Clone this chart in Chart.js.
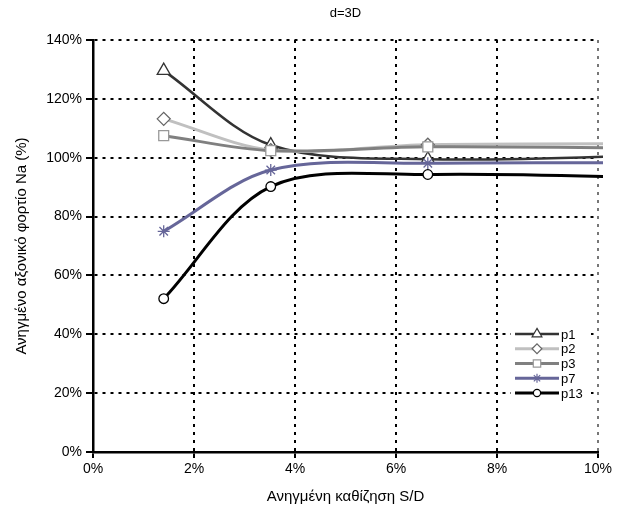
<!DOCTYPE html>
<html>
<head>
<meta charset="utf-8">
<script src="https://cdn.jsdelivr.net/npm/chart.js@4"></script>
<style>
  html, body { margin: 0; padding: 0; background: #fff; }
</style>
</head>
<body>
<canvas id="myChart" width="624" height="510"></canvas>
<script>
// values (S/D in %, Na in %)
// last point sits past 10% so the lines run out to the right edge
const settlement = [1.4, 3.52, 6.63, 12];
const p1 = [129.6, 104.3, 99.5, 101.3];
const p2 = [113.2, 102.6, 104.4, 104.8];
const p3 = [107.5, 102.4, 103.7, 103.1];
const p7 = [75.0, 95.8, 98.1, 98.2];
const p13 = [52.1, 90.2, 94.3, 92.8];

const chartTitle = 'd=3D';
const xTitle = 'Ανηγμένη καθίζηση S/D';
const yTitle = 'Ανηγμένο αξονικό φορτίο Na (%)';

const FONT = '"Liberation Sans", Arial, sans-serif';
Chart.defaults.font.family = FONT;
Chart.defaults.color = '#000';

function series(label, values, color, style, radius, edge, width, order) {
  return {
    label: label,
    data: settlement.map((x, i) => ({ x: x, y: values[i] })),
    showLine: true,
    borderColor: color,
    borderWidth: width,
    tension: 0.33,
    pointStyle: style,
    pointRadius: radius,
    pointHoverRadius: radius,
    pointBackgroundColor: style === 'star' ? color : '#fff',
    pointBorderColor: edge,
    pointBorderWidth: 1.3,
    clip: { left: 2, right: 5, top: 2, bottom: 2 },
    order: order
  };
}

// title centred over the plot area, not the whole canvas
const plotTitle = {
  id: 'plotTitle',
  afterDraw(chart) {
    const { ctx, chartArea } = chart;
    ctx.save();
    ctx.font = '13px ' + FONT;
    ctx.fillStyle = '#000';
    ctx.textAlign = 'center';
    ctx.textBaseline = 'middle';
    ctx.fillText(chartTitle, (chartArea.left + chartArea.right) / 2, 13);
    ctx.restore();
  }
};

// legend drawn inside the plot, bottom right, on a white patch
const boxLegend = {
  id: 'boxLegend',
  afterDraw(chart) {
    const { ctx, chartArea } = chart;
    const x0 = chartArea.right - 83;
    const y0 = chartArea.top + 294;
    const n = chart.data.datasets.length;
    ctx.save();
    ctx.fillStyle = '#fff';
    ctx.fillRect(x0 - 4, y0 - 8, 80, (n - 1) * 14.75 + 16);
    ctx.font = '13px ' + FONT;
    ctx.textBaseline = 'middle';
    chart.data.datasets.forEach((ds, i) => {
      const y = y0 + i * 14.75;
      ctx.strokeStyle = ds.borderColor;
      ctx.lineWidth = ds.borderWidth;
      ctx.beginPath();
      ctx.moveTo(x0, y);
      ctx.lineTo(x0 + 44, y);
      ctx.stroke();
      ctx.fillStyle = ds.pointBackgroundColor;
      ctx.strokeStyle = ds.pointBorderColor;
      ctx.lineWidth = 1.2;
      if (Chart.helpers && Chart.helpers.drawPoint) {
        Chart.helpers.drawPoint(ctx, {
          pointStyle: ds.pointStyle, radius: ds.pointRadius * 0.75,
          borderWidth: 1.2, rotation: 0
        }, x0 + 22, y);
      }
      ctx.fillStyle = '#000';
      ctx.fillText(ds.label, x0 + 46, y + 1);
    });
    ctx.restore();
  }
};

const ctx = document.getElementById('myChart');
new Chart(ctx, {
  type: 'scatter',
  data: {
    datasets: [
      series('p1', p1, '#333333', 'triangle', 7.5, '#333333', 2.5, 5),
      series('p2', p2, '#c0c0c0', 'rectRot', 6.5, '#666666', 3, 4),
      series('p3', p3, '#808080', 'rect', 7, '#999999', 3, 3),
      series('p7', p7, '#666699', 'star', 6, '#666699', 3, 2),
      series('p13', p13, '#000000', 'circle', 4.8, '#000000', 3, 1)
    ]
  },
  options: {
    responsive: false,
    animation: false,
    layout: { padding: { top: 40, right: 26, left: 0, bottom: 0 } },
    plugins: {
      legend: { display: false },
      title: { display: false },
      tooltip: { enabled: false }
    },
    scales: {
      x: {
        type: 'linear',
        min: 0,
        max: 10,
        ticks: { stepSize: 2, callback: v => v + '%', font: { size: 14 }, padding: 3, maxRotation: 0 },
        grid: {
          color: c => (c.tick && c.tick.value === 10) ? '#777' : '#000',
          lineWidth: 2,
          tickLength: 6,
          tickColor: '#000',
          tickWidth: 2
        },
        border: { color: '#000', width: 2.5, dash: [3, 5] },
        title: { display: true, text: xTitle, font: { size: 15 }, padding: { top: 0, bottom: 4 } },
        afterFit: s => { s.height = 58; }
      },
      y: {
        min: 0,
        max: 140,
        ticks: { stepSize: 20, callback: v => v + '%', font: { size: 14 }, padding: 4 },
        grid: {
          color: '#000',
          lineWidth: 2,
          tickLength: 7,
          tickColor: '#000',
          tickWidth: 2
        },
        border: { color: '#000', width: 2.5, dash: [3, 5] },
        title: { display: true, text: yTitle, font: { size: 15 }, padding: { top: 13, bottom: 0 } },
        afterFit: s => { s.width = 93; }
      }
    }
  },
  plugins: [plotTitle, boxLegend]
});
</script>
</body>
</html>
